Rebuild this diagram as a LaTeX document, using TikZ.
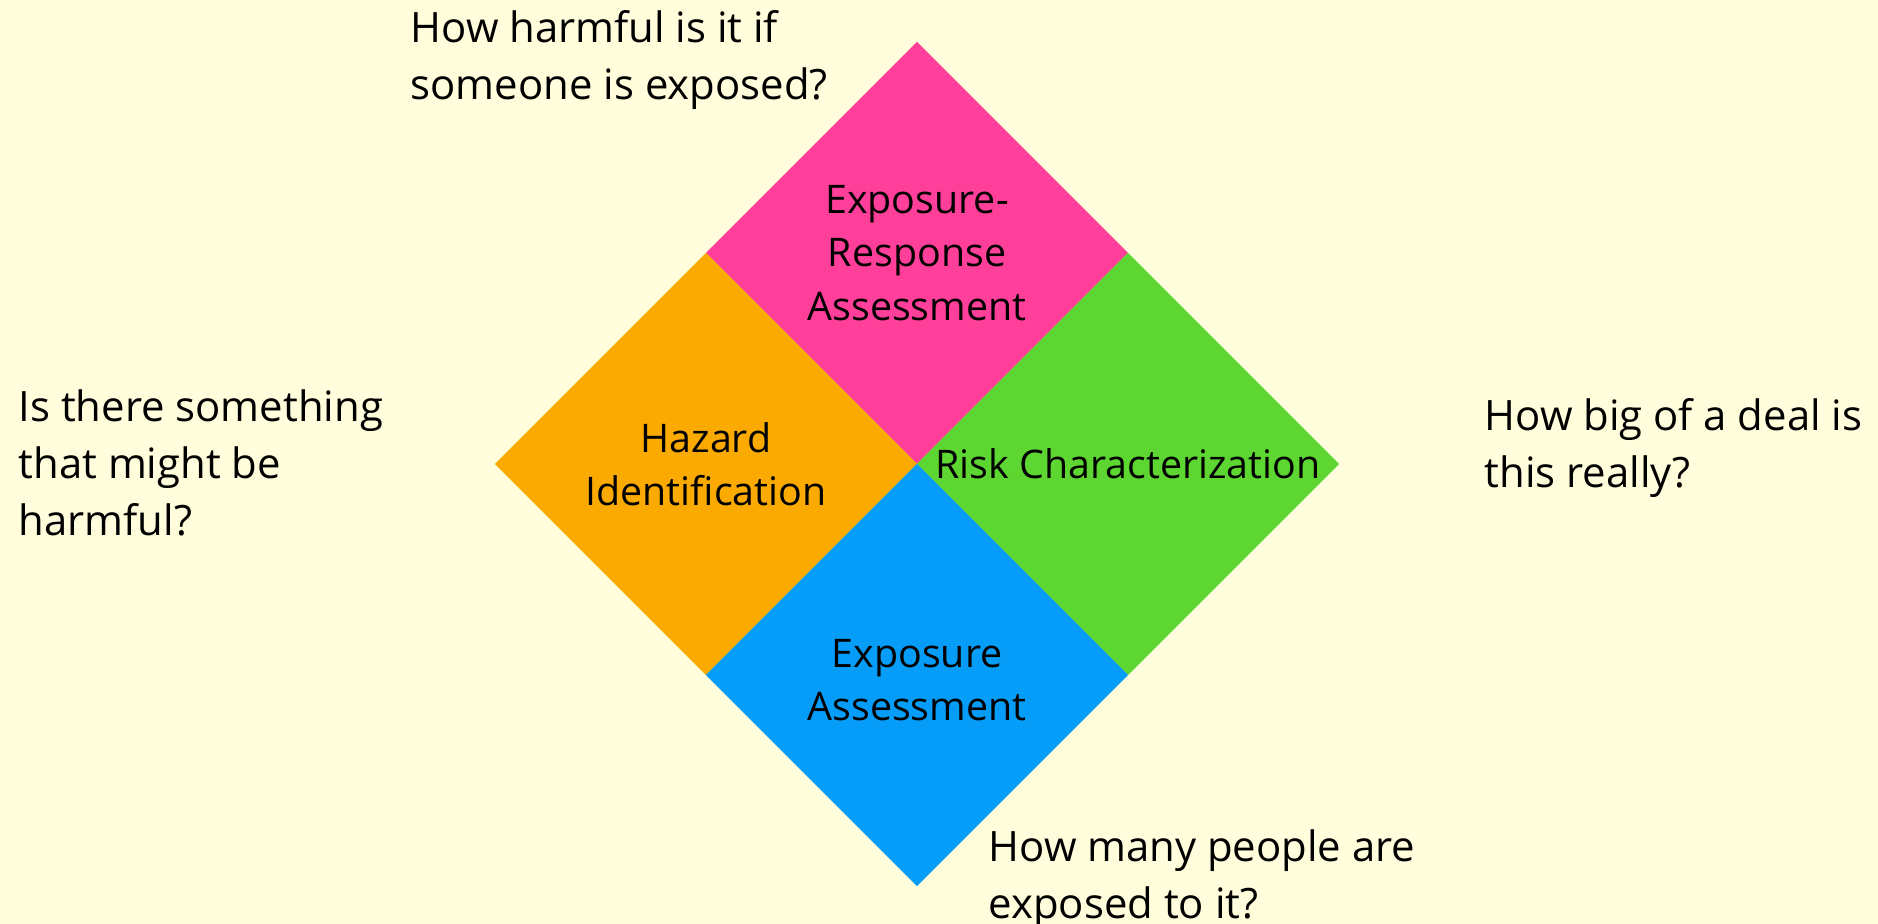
\documentclass[tikz,border=0pt]{standalone}
\usepackage{fontspec}
\setmainfont{Open Sans}
\usetikzlibrary{shapes.geometric}
\definecolor{paper}{HTML}{FFFDDC}
\definecolor{pink}{HTML}{FF3F9A}
\definecolor{amber}{HTML}{FAAA00}
\definecolor{lime}{HTML}{5DD632}
\definecolor{sky}{HTML}{069DF9}
\tikzset{
  quad/.style={
    diamond,
    draw=none,
    inner sep=0pt,
    outer sep=0pt,
    minimum width=4.22cm,
    minimum height=4.22cm
  },
  quadlabel/.style={
    align=center,
    inner sep=0pt,
    font=\fontsize{11.2}{15.2}\selectfont
  },
  question/.style={
    align=left,
    anchor=north west,
    inner sep=0pt,
    font=\fontsize{11.9}{16.2}\selectfont
  }
}

\begin{document}
\begin{tikzpicture}[x=0.01cm, y=-0.01cm]

\fill[paper] (0,0) rectangle (1878,924);
\useasboundingbox (0,0) rectangle (1878,924);

% The four steps, as quarters of one large diamond.
\node[quad, fill=pink]  (dose)   at (917,253) {};
\node[quad, fill=amber] (hazard) at (706,464) {};
\node[quad, fill=lime]  (risk)   at (1128,464) {};
\node[quad, fill=sky]   (expo)   at (917,675) {};

\node[quadlabel] (doselabel)   at (dose.center)   {Exposure-\\Response\\Assessment};
\node[quadlabel] (hazardlabel) at (hazard.center) {Hazard\\Identification};
\node[quadlabel] (risklabel)   at (risk.center)   {Risk Characterization};
\node[quadlabel, yshift=-0.05cm] (expolabel) at (expo.center) {Exposure\\Assessment};

% Guiding question next to each step.
\node[question] (doseq)   at (410,10)   {How harmful is it if\\someone is exposed?};
\node[question] (hazardq) at (18,389)   {Is there something\\that might be\\harmful?};
\node[question] (riskq)   at (1484,398) {How big of a deal is\\this really?};
\node[question] (expoq)   at (988,829)  {How many people are\\exposed to it?};

\end{tikzpicture}
\end{document}
